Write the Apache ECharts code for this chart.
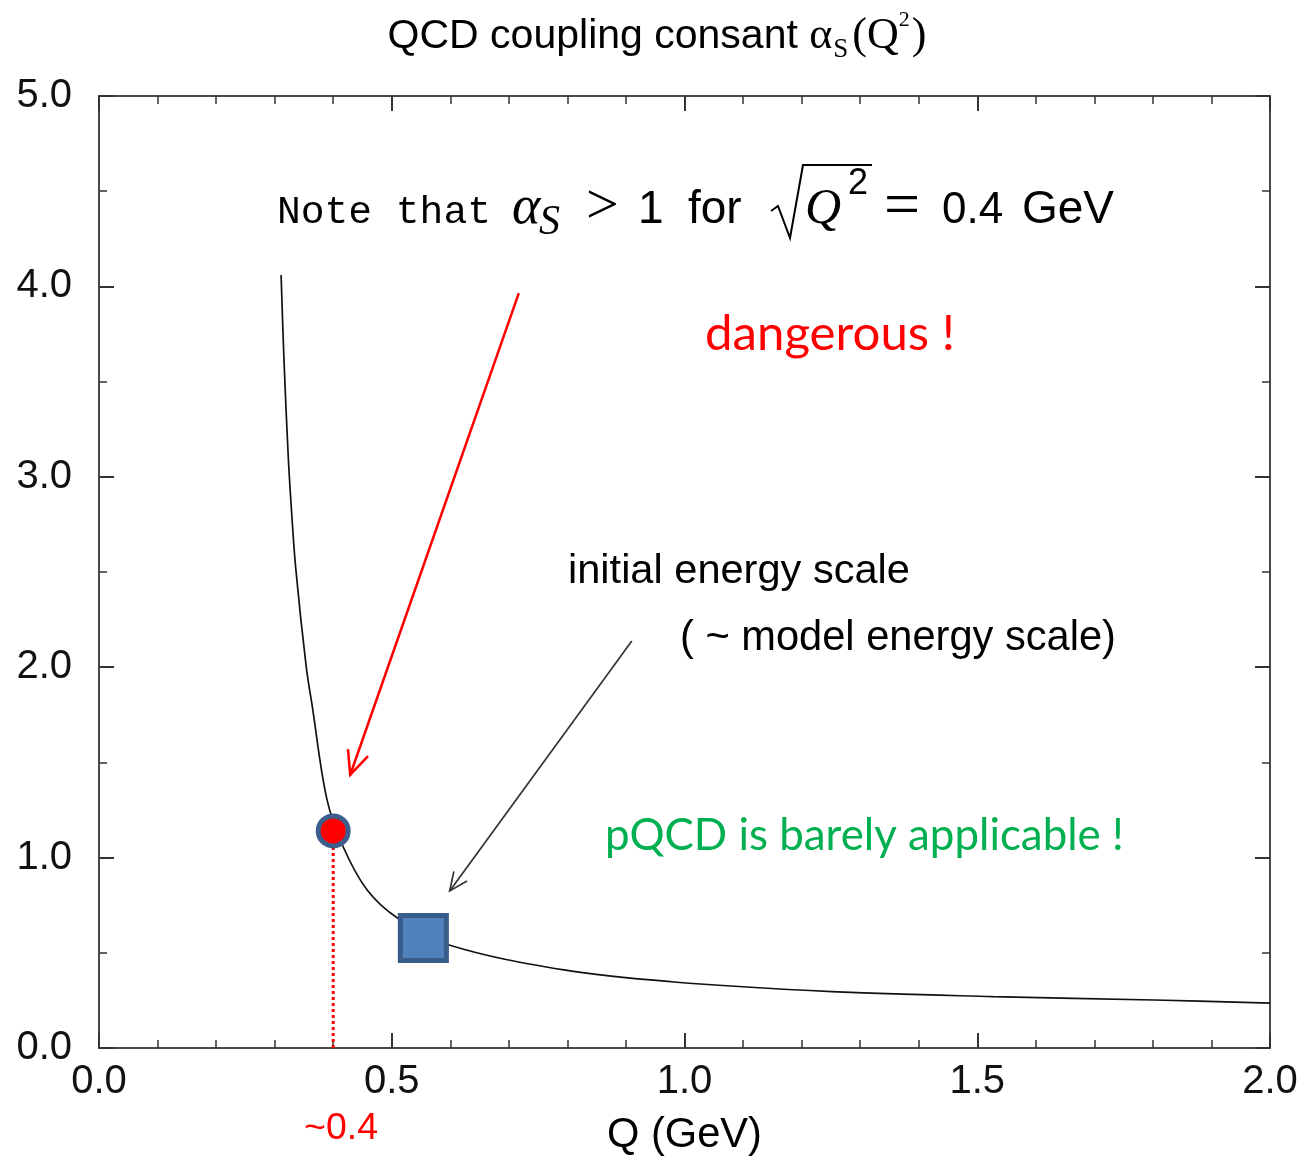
<!DOCTYPE html>
<html><head><meta charset="utf-8">
<script src="https://cdn.jsdelivr.net/npm/echarts@6/dist/echarts.min.js"></script>
<style>html,body{margin:0;padding:0;background:#fff}#c{width:1304px;height:1160px}</style>
</head><body><div id="c"></div>
<script>
// ---- data ----
const curveQ     = [0.311, 0.316, 0.323, 0.328, 0.336, 0.354, 0.364, 0.389, 0.417, 0.458, 0.511, 0.598, 0.794, 0.977, 1.252, 1.527, 1.802, 2.000];
const curveAlpha = [4.06,  3.61,  3.12,  2.86,  2.52,  2.00,  1.80,  1.31,  1.057, 0.83,  0.680, 0.541, 0.410, 0.348, 0.296, 0.270, 0.252, 0.236];
const xTickLabels = ['0.0', '0.5', '1.0', '1.5', '2.0'];
const yTickLabels = ['0.0', '1.0', '2.0', '3.0', '4.0', '5.0'];
const dangerQ = [0.400];      const dangerAlpha = [1.14];
const scaleQ = [0.554];       const scaleAlpha = [0.578];
const dropQ = [0.400, 0.400]; const dropAlpha = [0.0, 1.06];
const redArrow   = [0.717, 3.965, 0.429, 1.434];
const blackArrow = [0.910, 2.138, 0.599, 0.825];

// ---- fonts / text helpers ----
const SANS = '"Liberation Sans", Arial, sans-serif';
const SERIF = '"Liberation Serif", "Times New Roman", serif';
const MONO = '"Liberation Mono", "Courier New", monospace';
const HUM = 'Lato, "Open Sans", sans-serif';
const cv = document.createElement('canvas').getContext('2d');
function fontStr(p){ return (p.style || 'normal') + ' normal ' + p.size + 'px ' + p.family; }
function measure(p){
  cv.font = fontStr(p);
  cv.textBaseline = 'alphabetic'; const m1 = cv.measureText(p.text);
  cv.textBaseline = 'middle'; const m2 = cv.measureText(p.text);
  return { w: m1.width, off: m1.actualBoundingBoxAscent - m2.actualBoundingBoxAscent };
}
function mk(p, x, base){
  const m = measure(p);
  return { type: 'text', x: x, y: base - m.off, z: 100,
    style: { text: p.text, font: fontStr(p), fill: p.color || '#000',
      align: 'left', verticalAlign: 'middle', textAlign: 'left', textVerticalAlign: 'middle' } };
}
function fitSize(text, family, targetW, style){
  const w = measure({text, family, size: 100, style}).w;
  return 100 * targetW / w;
}
function fitText(text, family, x, base, targetW, color){
  const size = fitSize(text, family, targetW);
  return mk({text, family, size, color}, x, base);
}
function run(pieces, centerX, base){
  let total = 0;
  pieces.forEach(p => { total += (p.dx || 0) + measure(p).w; });
  let x = centerX - total / 2; const els = [];
  pieces.forEach(p => { x += (p.dx || 0); els.push(mk(p, x, base + (p.dy || 0))); x += measure(p).w; });
  return els;
}

const graphics = [];
// title
graphics.push(...run([
  {text: 'QCD coupling consant ', family: SANS, size: 41},
  {text: 'α', family: SERIF, size: 44},
  {text: 'S', family: SERIF, size: 27, dy: 9, dx: 1},
  {text: '(', family: SERIF, size: 44, dx: 4},
  {text: 'Q', family: SERIF, size: 44},
  {text: '2', family: SERIF, size: 22, dy: -22},
  {text: ')', family: SERIF, size: 44, dx: 2}
], 657, 48));
// note line
graphics.push(mk({text: 'Note that', family: MONO, size: fitSize('Note that', MONO, 214)}, 277, 223));
graphics.push(mk({text: 'α', family: SERIF, size: 54, style: 'italic'}, 512, 223));
graphics.push(mk({text: 'S', family: SERIF, size: 42, style: 'italic'}, 539, 234));
graphics.push(mk({text: '>', family: SERIF, size: 58}, 586, 223));
graphics.push(mk({text: '1', family: SANS, size: 46}, 638, 223));
graphics.push(mk({text: 'for', family: SANS, size: 46}, 688, 223));
graphics.push({type: 'polyline', z: 100, shape: {points: [[771, 211], [778, 206], [790, 238], [803, 165], [872, 165]]},
  style: {stroke: '#000', lineWidth: 2, fill: null}});
graphics.push(mk({text: 'Q', family: SERIF, size: 50, style: 'italic'}, 805, 223));
graphics.push(mk({text: '2', family: SANS, size: 36}, 848, 194));
graphics.push(mk({text: '=', family: SERIF, size: 64}, 884, 225));
graphics.push(mk({text: '0.4', family: SANS, size: 44}, 942, 223));
graphics.push(mk({text: 'GeV', family: SANS, size: 46}, 1022, 223));
// annotations
graphics.push(fitText('dangerous !', HUM, 705, 350, 250, '#ff0000'));
graphics.push(fitText('initial energy scale', SANS, 568, 583, 342, '#000'));
graphics.push(fitText('( ~ model energy scale)', SANS, 680, 650, 436, '#000'));
graphics.push(fitText('pQCD is barely applicable !', HUM, 605, 850, 519, '#00b050'));
graphics.push(fitText('~0.4', SANS, 304, 1139, 74, '#ff0000'));
graphics.push(fitText('Q (GeV)', SANS, 607, 1147, 155, '#000'));

function arrowItem(color, width, head){
  return function(params, api){
    const p1 = api.coord([api.value(0), api.value(1)]);
    const p2 = api.coord([api.value(2), api.value(3)]);
    const ang = Math.atan2(p2[1] - p1[1], p2[0] - p1[0]);
    const a = 0.42;
    const h1 = [p2[0] - head * Math.cos(ang - a), p2[1] - head * Math.sin(ang - a)];
    const h2 = [p2[0] - head * Math.cos(ang + a), p2[1] - head * Math.sin(ang + a)];
    return {type: 'group', children: [
      {type: 'line', shape: {x1: p1[0], y1: p1[1], x2: p2[0], y2: p2[1]}, style: {stroke: color, lineWidth: width}},
      {type: 'polyline', shape: {points: [h1, p2, h2]}, style: {stroke: color, lineWidth: width, fill: null}}
    ]};
  };
}

const axisCommon = {
  min: 0, axisLine: {show: true, onZero: false, lineStyle: {color: '#4a4a4a', width: 2}},
  splitLine: {show: false}
};
const xFmt = v => { const i = Math.round(v / 0.5); return Math.abs(v - i * 0.5) < 1e-9 ? xTickLabels[i] : ''; };
const yFmt = v => { const i = Math.round(v); return Math.abs(v - i) < 1e-9 ? yTickLabels[i] : ''; };
const labelFont = {fontFamily: SANS, fontSize: 40, color: '#111'};

const option = {
  animation: false,
  backgroundColor: '#fff',
  grid: {left: 99, right: 34, top: 96, bottom: 112, containLabel: false},
  xAxis: [
    Object.assign({}, axisCommon, {type: 'value', position: 'bottom', max: 2, interval: 0.5,
      axisTick: {show: true, inside: true, length: 15, lineStyle: {color: '#333', width: 2}},
      minorTick: {show: true, splitNumber: 5, length: 8, lineStyle: {color: '#333', width: 1.5}},
      axisLabel: Object.assign({margin: 14, formatter: xFmt}, labelFont)}),
    Object.assign({}, axisCommon, {type: 'value', position: 'top', max: 2, interval: 0.5,
      axisTick: {show: true, inside: true, length: 15, lineStyle: {color: '#333', width: 2}},
      minorTick: {show: true, splitNumber: 5, length: 8, lineStyle: {color: '#333', width: 1.5}},
      axisLabel: {show: false}})
  ],
  yAxis: [
    Object.assign({}, axisCommon, {type: 'value', position: 'left', max: 5, interval: 1,
      axisTick: {show: true, inside: true, length: 15, lineStyle: {color: '#333', width: 2}},
      minorTick: {show: true, splitNumber: 2, length: 8, lineStyle: {color: '#333', width: 1.5}},
      axisLabel: Object.assign({margin: 27, formatter: yFmt}, labelFont)}),
    Object.assign({}, axisCommon, {type: 'value', position: 'right', max: 5, interval: 1,
      axisTick: {show: true, inside: true, length: 15, lineStyle: {color: '#333', width: 2}},
      minorTick: {show: true, splitNumber: 2, length: 8, lineStyle: {color: '#333', width: 1.5}},
      axisLabel: {show: false}})
  ],
  series: [
    {type: 'line', name: 'alpha_s', data: curveQ.map((q, i) => [q, curveAlpha[i]]),
      smooth: 0.35, showSymbol: false, symbol: 'none',
      lineStyle: {color: '#111', width: 1.7}, z: 2, silent: true},
    {type: 'line', data: dropQ.map((q, i) => [q, dropAlpha[i]]), symbol: 'none',
      lineStyle: {color: '#ff0000', width: 3, type: [3, 3]}, z: 3, silent: true},
    {type: 'custom', renderItem: arrowItem('#ff0000', 2.5, 26), data: [redArrow],
      dimensions: ['x1', 'y1', 'x2', 'y2'], encode: {x: [0, 2], y: [1, 3]}, z: 4, silent: true},
    {type: 'custom', renderItem: arrowItem('#333', 1.7, 20), data: [blackArrow],
      dimensions: ['x1', 'y1', 'x2', 'y2'], encode: {x: [0, 2], y: [1, 3]}, z: 4, silent: true},
    {type: 'scatter', data: dangerQ.map((q, i) => [q, dangerAlpha[i]]), symbol: 'circle', symbolSize: 30,
      itemStyle: {color: '#ff0000', borderColor: '#3b5e8c', borderWidth: 5, opacity: 1}, z: 6, silent: true},
    {type: 'scatter', data: scaleQ.map((q, i) => [q, scaleAlpha[i]]), symbol: 'rect', symbolSize: [46, 45],
      itemStyle: {color: '#4f81bd', borderColor: '#385d8a', borderWidth: 5, opacity: 1}, z: 6, silent: true}
  ],
  graphic: graphics
};
const chart = echarts.init(document.getElementById('c'));
chart.setOption(option);
</script>
</body></html>
